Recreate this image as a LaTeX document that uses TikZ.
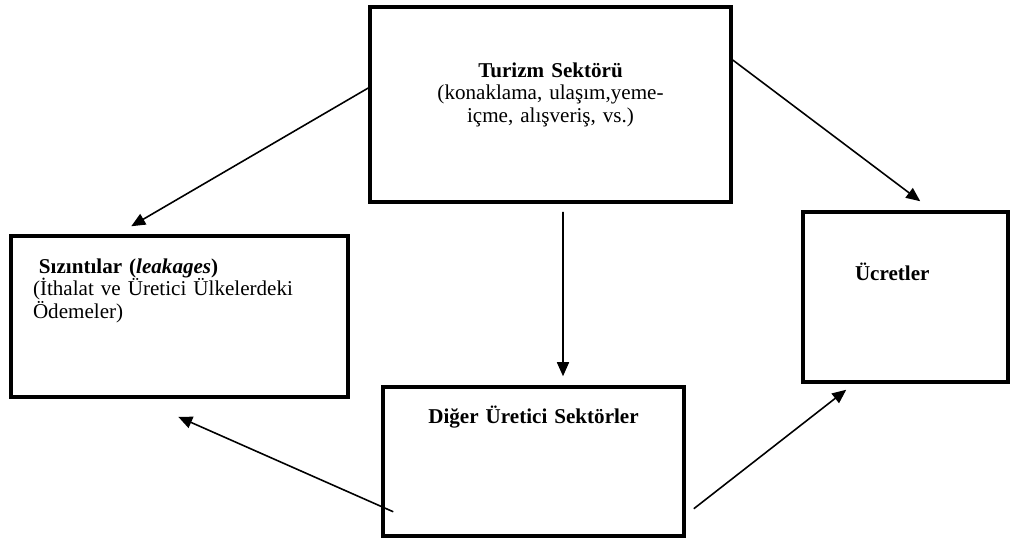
\documentclass[tikz,border=0pt]{standalone}
\usepackage{fontspec}
\setmainfont{Liberation Serif}
\usetikzlibrary{arrows.meta}
\begin{document}
\begin{tikzpicture}[>={Triangle[length=2.8mm,width=2.4mm]},
  box/.style={draw,line width=2pt,inner sep=0pt,font=\fontsize{12}{13}\selectfont},
  link/.style={->,line width=0.9pt}]
\useasboundingbox (0,0) rectangle (20.2,-10.82);
\node[box,text width=7.22cm,align=center,text height=1.4cm,text depth=2.5cm] (turizm) at (11.01,-2.09) {\textbf{Turizm Sektörü}\\(konaklama, ulaşım,yeme-\\içme, alışveriş, vs.)};
\node[box,inner xsep=0.44cm,text width=5.86cm,align=left,text height=0.74cm,text depth=2.48cm] (sizinti) at (3.59,-6.33) {\hspace*{0.12cm}\textbf{Sızıntılar (\textit{leakages})}\\(İthalat ve Üretici Ülkelerdeki\\Ödemeler)};
\node[box,inner xsep=1.04cm,text width=2.02cm,align=left,text height=1.36cm,text depth=2.04cm] (ucret) at (18.11,-5.94) {\textbf{Ücretler}};
\node[box,text width=6.02cm,align=center,text height=0.72cm,text depth=2.26cm] (diger) at (10.67,-9.23) {\textbf{Diğer Üretici Sektörler}};
\draw[link] ([yshift=0.33cm]turizm.west) -- ([xshift=2.44cm,yshift=0.16cm]sizinti.north west);
\draw[link] ([yshift=0.89cm]turizm.east) -- ([xshift=2.38cm,yshift=0.18cm]ucret.north west);
\draw[link] ([xshift=0.25cm,yshift=-0.16cm]turizm.south) -- ([xshift=0.59cm,yshift=0.18cm]diger.north);
\draw[link] ([xshift=0.24cm,yshift=0.52cm]diger.south west) -- ([xshift=3.38cm,yshift=-0.36cm]sizinti.south west);
\draw[link] ([xshift=0.16cm,yshift=0.58cm]diger.south east) -- ([xshift=0.9cm,yshift=-0.12cm]ucret.south west);
\end{tikzpicture}
\end{document}
